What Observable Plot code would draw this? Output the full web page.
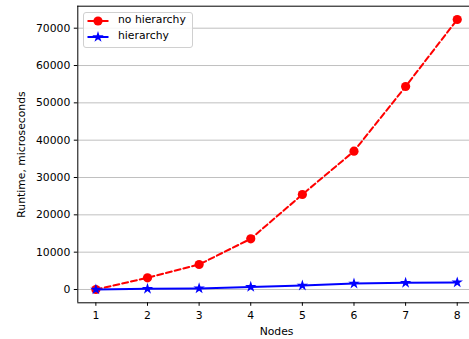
<!DOCTYPE html>
<html><head><meta charset="utf-8">
<script src="https://cdn.jsdelivr.net/npm/d3@7"></script>
<script src="https://cdn.jsdelivr.net/npm/@observablehq/plot@0.6"></script>
<style>
html,body{margin:0;background:#fff;overflow:hidden;font-family:"DejaVu Sans",sans-serif}
#wrap{position:relative;width:469px;height:339px;overflow:hidden;background:#fff}
#wrap svg{max-width:none !important;display:block;overflow:hidden}
#legend{position:absolute;left:83px;top:12px;width:108px;height:34px;border:1px solid #d0d0d0;border-radius:3px;background:rgba(255,255,255,0.85)}
.lsym{position:absolute}
.ltxt{position:absolute;left:118px;font-size:10.8px;color:#000;line-height:13px}
</style></head><body><div id="wrap"></div>
<script>
const nodes = [1, 2, 3, 4, 5, 6, 7, 8];
const noHierarchy = [0, 3130, 6700, 13580, 25450, 37050, 54380, 72330];
const hierarchy = [0, 200, 300, 700, 1070, 1600, 1800, 1900];
const seriesNames = ["no hierarchy", "hierarchy"];
const seriesColors = ["red", "blue"];
const yTicks = [0, 10000, 20000, 30000, 40000, 50000, 60000, 70000];
const xTicks = [1, 2, 3, 4, 5, 6, 7, 8];
const xLabel = "Nodes";
const yLabel = "Runtime, microseconds";

const xDomain = [0.65, 8.35];
const yDomain = [-3563, 75893];
const dataA = nodes.map((n, i) => ({x: n, y: noHierarchy[i]}));
const dataB = nodes.map((n, i) => ({x: n, y: hierarchy[i]}));

const chart = Plot.plot({
  width: 469, height: 339,
  marginLeft: 77.3, marginRight: -5.8, marginTop: 5.7, marginBottom: 36.7,
  style: {fontFamily: "DejaVu Sans, sans-serif", fontSize: "10.8px", color: "#000", background: "white", maxWidth: "none", overflow: "hidden"},
  x: {domain: xDomain},
  y: {domain: yDomain},
  marks: [
    Plot.gridY(yTicks, {stroke: "#b0b0b0", strokeOpacity: 1, strokeWidth: 0.8}),
    Plot.axisY(yTicks, {tickSize: 3.5, tickPadding: 4, tickFormat: d => String(d), label: yLabel, labelAnchor: "center", labelOffset: 60, labelArrow: "none"}),
    Plot.axisX(xTicks, {tickSize: 3.5, tickPadding: 5, tickFormat: d => String(d), label: xLabel, labelAnchor: "center", labelOffset: 32, labelArrow: "none"}),
    Plot.lineY(dataA, {x: "x", y: "y", stroke: seriesColors[0], strokeWidth: 2, strokeDasharray: "6,3"}),
    Plot.dot(dataA, {x: "x", y: "y", fill: seriesColors[0], r: 4.6, stroke: "none"}),
    Plot.lineY(dataB, {x: "x", y: "y", stroke: seriesColors[1], strokeWidth: 2}),
    Plot.dot(dataB, {x: "x", y: "y", fill: seriesColors[1], symbol: "star", r: 3.6, stroke: "none"}),
    Plot.ruleX([xDomain[0]], {stroke: "black", strokeWidth: 1}),
    Plot.ruleY(yDomain, {stroke: "black", strokeWidth: 1})
  ]
});
const wrap = document.getElementById("wrap");
wrap.appendChild(chart);

const legend = document.createElement("div");
legend.id = "legend";
wrap.appendChild(legend);
seriesNames.forEach((name, i) => {
  const cy = i === 0 ? 20.7 : 36.7;
  const s = document.createElement("div");
  s.className = "lsym";
  s.style.left = "86px"; s.style.top = (cy - 8) + "px";
  const sym = i === 0
    ? `<circle cx="12" cy="8" r="4.6" fill="${seriesColors[i]}"/>`
    : `<path transform="translate(12,8)" d="${d3.symbol(d3.symbolStar, 3.6*3.6*Math.PI)()}" fill="${seriesColors[i]}"/>`;
  s.innerHTML = `<svg width="24" height="16"><line x1="1.5" x2="22.5" y1="8" y2="8" stroke="${seriesColors[i]}" stroke-width="2"/>${sym}</svg>`;
  wrap.appendChild(s);
  const t = document.createElement("div");
  t.className = "ltxt";
  t.style.top = (cy - 7.5) + "px";
  t.textContent = name;
  wrap.appendChild(t);
});
</script></body></html>
